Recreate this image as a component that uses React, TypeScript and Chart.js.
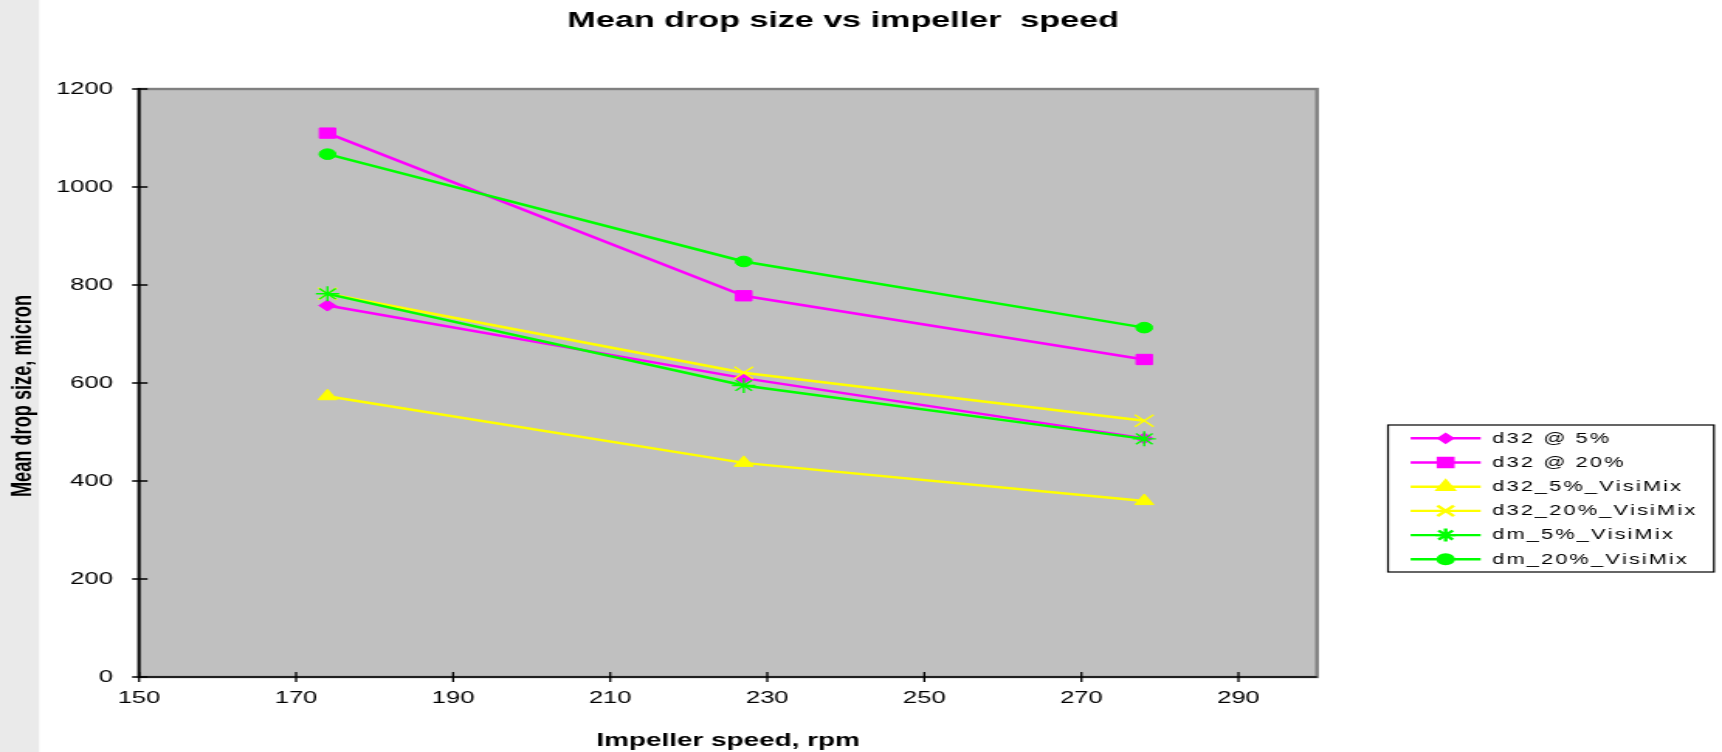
import React, { useEffect, useRef } from 'react';
import { Chart, registerables } from 'chart.js';
import { drawPoint } from 'chart.js/helpers';

Chart.register(...registerables);

// ---- data ----
const speeds = [174, 227, 278];
const d32At5 = [758, 610, 487];
const d32At20 = [1110, 778, 648];
const d32Visi5 = [573, 437, 359];
const d32Visi20 = [782, 621, 523];
const dmVisi5 = [782, 595, 486];
const dmVisi20 = [1067, 848, 713];
const seriesNames = ['d32 @ 5%', 'd32 @ 20%', 'd32_5%_VisiMix', 'd32_20%_VisiMix', 'dm_5%_VisiMix', 'dm_20%_VisiMix'];
const seriesValues = [d32At5, d32At20, d32Visi5, d32Visi20, dmVisi5, dmVisi20];
const xTickValues = [150, 170, 190, 210, 230, 250, 270, 290];
const yTickValues = [0, 200, 400, 600, 800, 1000, 1200];
const chartTitle = 'Mean drop size vs impeller  speed';
const xTitle = 'Impeller speed, rpm';
const yTitle = 'Mean drop size, micron';

// ---- styles ----
const FONT = "'Liberation Sans', Arial, Helvetica, sans-serif";
const MAG = '#FF00FF';
const YEL = '#FFFF00';
const GRN = '#00FF00';
const seriesStyles = [
  { color: MAG, pointStyle: 'rectRot', radius: 5.5, bw: 1, legendRadius: 4.2 },
  { color: MAG, pointStyle: 'rect', radius: 7.3, bw: 1, legendRadius: 6.5 },
  { color: YEL, pointStyle: 'triangle', radius: 7, bw: 1, legendRadius: 6 },
  { color: YEL, pointStyle: 'crossRot', radius: 8.5, bw: 1.4, legendRadius: 7.5 },
  { color: GRN, pointStyle: 'star', radius: 7.5, bw: 1.4, legendRadius: 6.5 },
  { color: GRN, pointStyle: 'circle', radius: 5.3, bw: 1, legendRadius: 4.8 },
];

const CANVAS_W = 1111; // drawn narrower, then stretched horizontally to 1722
const CANVAS_H = 752;
const PAGE_W = 1722;

function spacedText(ctx: CanvasRenderingContext2D, text: string, x: number, y: number, spacing: number) {
  let cx = x;
  for (const ch of text) {
    ctx.fillText(ch, cx, y);
    cx += ctx.measureText(ch).width + spacing;
  }
}

const framePlugin = {
  id: 'frameDecor',
  beforeDraw(chart: any) {
    const ctx = chart.ctx;
    ctx.save();
    ctx.fillStyle = '#ffffff';
    ctx.fillRect(0, 0, chart.width, chart.height);
    ctx.fillStyle = '#EAEAEA';
    ctx.fillRect(0, 0, 25.2, chart.height);
    ctx.restore();
  },
  beforeDatasetsDraw(chart: any) {
    const { ctx, chartArea: a, scales } = chart;
    ctx.save();
    ctx.fillStyle = '#C0C0C0';
    ctx.fillRect(a.left, a.top, a.right - a.left, a.bottom - a.top);
    ctx.strokeStyle = '#808080';
    ctx.lineWidth = 2.4;
    ctx.strokeRect(a.left, a.top, a.right - a.left, a.bottom - a.top);
    ctx.strokeStyle = '#000000';
    ctx.lineWidth = 1.7;
    ctx.beginPath();
    ctx.moveTo(a.left, a.top - 1);
    ctx.lineTo(a.left, a.bottom);
    ctx.lineTo(a.right, a.bottom);
    ctx.stroke();
    ctx.lineWidth = 1.3;
    ctx.beginPath();
    for (const t of scales.y.ticks) {
      const y = scales.y.getPixelForValue(t.value);
      ctx.moveTo(a.left - 4.5, y);
      ctx.lineTo(a.left + 5.5, y);
    }
    for (const t of scales.x.ticks) {
      const x = scales.x.getPixelForValue(t.value);
      ctx.moveTo(x, a.bottom - 5);
      ctx.lineTo(x, a.bottom + 5);
    }
    ctx.stroke();
    ctx.restore();
  },
  afterDraw(chart: any) {
    const { ctx } = chart;
    ctx.save();
    // chart title
    ctx.fillStyle = '#000';
    ctx.font = `bold 22px ${FONT}`;
    ctx.textAlign = 'center';
    ctx.textBaseline = 'middle';
    ctx.fillText(chartTitle, 544, 20.5);
    // y axis title
    ctx.save();
    ctx.translate(15.3, 396);
    ctx.rotate(-Math.PI / 2);
    ctx.font = `bold 18.2px ${FONT}`;
    ctx.textAlign = 'center';
    ctx.textBaseline = 'middle';
    ctx.fillText(yTitle, 0, 0);
    ctx.restore();
    // legend
    const boxL = 895.5, boxT = 425, boxR = 1105.8, boxB = 572;
    ctx.strokeStyle = '#000';
    ctx.lineWidth = 1.2;
    ctx.strokeRect(boxL, boxT, boxR - boxL, boxB - boxT);
    const lineX0 = 910.1, lineX1 = 955.3, markX = 932.7, textX = 962.8;
    const rowY0 = 438.3, rowGap = 24.2;
    chart.data.datasets.forEach((ds: any, i: number) => {
      const st = seriesStyles[i];
      const y = rowY0 + i * rowGap;
      ctx.strokeStyle = st.color;
      ctx.fillStyle = st.color;
      ctx.lineWidth = 2.4;
      ctx.beginPath();
      ctx.moveTo(lineX0, y);
      ctx.lineTo(lineX1, y);
      ctx.stroke();
      drawPoint(ctx, { pointStyle: st.pointStyle, radius: st.legendRadius, borderWidth: st.bw, rotation: 0 }, markX, y);
      ctx.fillStyle = '#000';
      ctx.font = `14px ${FONT}`;
      ctx.textAlign = 'left';
      ctx.textBaseline = 'middle';
      spacedText(ctx, ds.label, textX, y + 0.5, 1.4);
    });
    ctx.restore();
  },
};

export default function App() {
  const canvasRef = useRef<HTMLCanvasElement | null>(null);

  useEffect(() => {
    const canvas = canvasRef.current;
    if (!canvas) return;
    const n = seriesNames.length;
    const datasets = seriesNames.map((name, i) => {
      const st = seriesStyles[i];
      return {
        label: name,
        data: speeds.map((x, j) => ({ x, y: seriesValues[i][j] })),
        borderColor: st.color,
        backgroundColor: st.color,
        borderWidth: 2.5,
        pointStyle: st.pointStyle,
        pointRadius: st.radius,
        pointHoverRadius: st.radius,
        pointBorderWidth: st.bw,
        pointBackgroundColor: st.color,
        pointBorderColor: st.color,
        showLine: true,
        fill: false,
        tension: 0,
        order: n - i,
      };
    });

    const chart = new Chart(canvas, {
      type: 'line',
      data: { datasets },
      options: {
        animation: false,
        responsive: false,
        devicePixelRatio: 1,
        layout: { padding: { left: 0, right: CANVAS_W - 849.7, top: 89, bottom: 0 } },
        plugins: {
          legend: { display: false },
          title: { display: false },
          tooltip: { enabled: false },
        },
        scales: {
          x: {
            type: 'linear',
            min: 150,
            max: 300,
            afterBuildTicks: (s: any) => {
              s.ticks = xTickValues.map((v) => ({ value: v }));
            },
            afterFit: (s: any) => {
              s.height = 75;
            },
            grid: { display: false, drawTicks: false },
            border: { display: false },
            ticks: {
              color: '#000',
              font: { family: FONT, size: 16.5 },
              padding: 11.6,
              maxRotation: 0,
              autoSkip: false,
              callback: (v: any) => String(v),
            },
            title: {
              display: true,
              text: xTitle,
              color: '#000',
              font: { family: FONT, size: 18, weight: 'bold' },
              padding: { top: 0, bottom: 0 },
            },
          },
          y: {
            type: 'linear',
            min: 0,
            max: 1200,
            afterBuildTicks: (s: any) => {
              s.ticks = yTickValues.map((v) => ({ value: v }));
            },
            afterFit: (s: any) => {
              s.width = 89.7;
            },
            grid: { display: false, drawTicks: false },
            border: { display: false },
            ticks: {
              color: '#000',
              font: { family: FONT, size: 16.5 },
              padding: 16.8,
              autoSkip: false,
              callback: (v: any) => String(v),
            },
          },
        },
      } as any,
      plugins: [framePlugin],
    } as any);

    return () => {
      chart.destroy();
    };
  }, []);

  return (
    <div style={{ position: 'fixed', left: 0, top: 0, width: PAGE_W, height: CANVAS_H, background: '#fff', overflow: 'hidden' }}>
      <canvas
        ref={canvasRef}
        width={CANVAS_W}
        height={CANVAS_H}
        style={{ width: `${PAGE_W}px`, height: `${CANVAS_H}px`, display: 'block' }}
      />
    </div>
  );
}
